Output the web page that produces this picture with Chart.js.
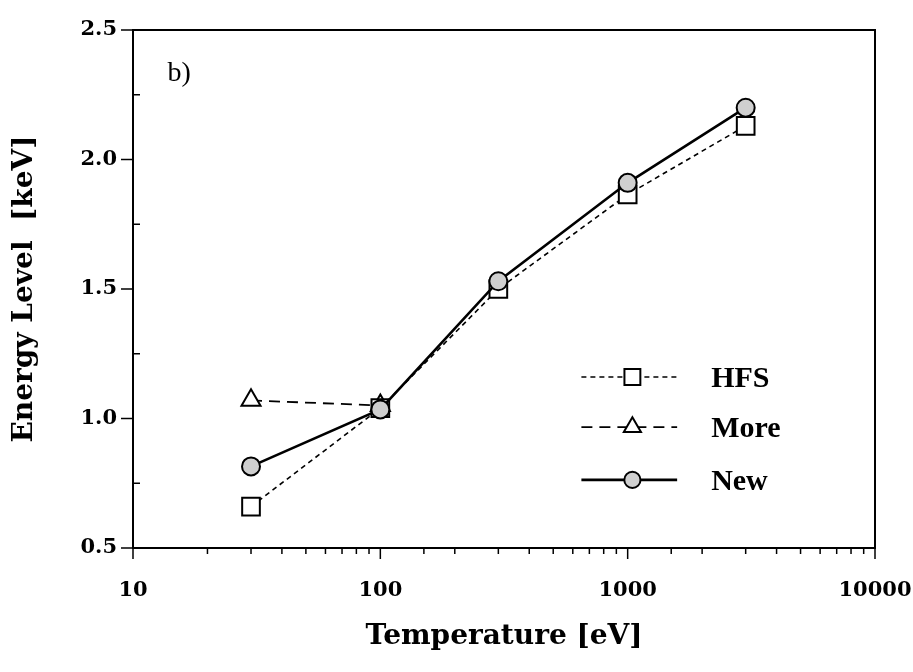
<!DOCTYPE html>
<html>
<head>
<meta charset="utf-8">
<script src="https://cdn.jsdelivr.net/npm/chart.js@4/dist/chart.umd.min.js"></script>
<style>
  html, body { margin: 0; padding: 0; background: #fff; }
  #wrap { width: 913px; height: 672px; }
</style>
</head>
<body>
<div id="wrap"><canvas id="c" width="913" height="672"></canvas></div>
<script>
// ---- data ----
const temperatures = [30, 100, 300, 1000, 3000];
const hfsValues = [0.66, 1.04, 1.50, 1.865, 2.13];
const moreTemperatures = [30, 100];
const moreValues = [1.07, 1.05];
const newValues = [0.815, 1.035, 1.53, 1.91, 2.20];
const xTickLabels = [10, 100, 1000, 10000];
const yTickLabels = [0.5, 1.0, 1.5, 2.0, 2.5];
const seriesNames = ['HFS', 'More', 'New'];
const panelLabel = 'b)';

const toPoints = (xs, ys) => xs.map((x, i) => ({ x: x, y: ys[i] }));

const styles = {
  HFS:  { borderDash: [5, 4], borderWidth: 1.6, pointStyle: 'rect', radius: 12.5, fill: '#ffffff' },
  More: { borderDash: [11, 7], borderWidth: 1.8, pointStyle: 'triangle', radius: 11, fill: '#ffffff' },
  New:  { borderDash: [], borderWidth: 2.6, pointStyle: 'circle', radius: 9, fill: '#cfcfcf' }
};

function ds(name, data, order) {
  const s = styles[name];
  return {
    label: name, data: data, order: order,
    borderColor: '#000', borderWidth: s.borderWidth, borderDash: s.borderDash,
    pointStyle: s.pointStyle, pointRadius: s.radius, pointHoverRadius: s.radius,
    pointBackgroundColor: s.fill, pointBorderColor: '#000', pointBorderWidth: 2,
    tension: 0, fill: false
  };
}

const decoPlugin = {
  id: 'deco',
  afterDraw(chart) {
    const ctx = chart.ctx, a = chart.chartArea;
    const xs = chart.scales.x, ys = chart.scales.y;
    ctx.save();
    ctx.strokeStyle = '#000';
    // frame
    ctx.lineWidth = 2;
    ctx.strokeRect(a.left, a.top, a.right - a.left, a.bottom - a.top);
    // x ticks (outward)
    ctx.lineWidth = 1.5;
    xs.ticks.forEach(t => {
      const lg = Math.log10(t.value);
      const major = Math.abs(lg - Math.round(lg)) < 1e-9;
      const px = xs.getPixelForValue(t.value);
      ctx.beginPath();
      ctx.moveTo(px, a.bottom);
      ctx.lineTo(px, a.bottom + (major ? 11 : 6));
      ctx.stroke();
    });
    // y ticks
    ys.ticks.forEach(t => {
      const major = Math.abs(t.value * 2 - Math.round(t.value * 2)) < 1e-9;
      const py = ys.getPixelForValue(t.value);
      ctx.beginPath();
      if (major) { ctx.moveTo(a.left, py); ctx.lineTo(a.left - 12, py); }
      else { ctx.moveTo(a.left, py); ctx.lineTo(a.left + 7, py); }
      ctx.stroke();
    });
    // panel label
    ctx.fillStyle = '#000';
    ctx.font = '28px "Liberation Serif"';
    ctx.textAlign = 'left';
    ctx.textBaseline = 'middle';
    ctx.fillText(panelLabel, xs.getPixelForValue(13.8), ys.getPixelForValue(2.33));
    // legend
    const rowsY = [1.16, 0.967, 0.763];
    const lineX0 = xs.getPixelForValue(650), lineX1 = xs.getPixelForValue(1585);
    const markX = xs.getPixelForValue(1045);
    const textX = xs.getPixelForValue(2175);
    const dsets = chart.data.datasets;
    seriesNames.forEach((name, i) => {
      const d = dsets.find(q => q.label === name);
      const py = ys.getPixelForValue(rowsY[i]);
      ctx.save();
      ctx.lineWidth = d.borderWidth;
      ctx.setLineDash(d.borderDash);
      ctx.beginPath(); ctx.moveTo(lineX0, py); ctx.lineTo(lineX1, py); ctx.stroke();
      ctx.restore();
      ctx.save();
      ctx.fillStyle = d.pointBackgroundColor; ctx.strokeStyle = '#000'; ctx.lineWidth = 2;
      Chart.helpers.drawPoint(ctx, { pointStyle: d.pointStyle, radius: d.pointRadius * 0.9, borderWidth: 2 }, markX, py);
      ctx.restore();
      ctx.fillStyle = '#000';
      ctx.font = 'bold 30px "Liberation Serif"';
      ctx.textAlign = 'left';
      ctx.textBaseline = 'middle';
      ctx.fillText(name, textX, py + 2);
    });
    ctx.restore();
  }
};

new Chart(document.getElementById('c'), {
  type: 'line',
  data: {
    datasets: [
      ds('HFS', toPoints(temperatures, hfsValues), 1),
      ds('More', toPoints(moreTemperatures, moreValues), 2),
      ds('New', toPoints(temperatures, newValues), 0)
    ]
  },
  options: {
    responsive: false,
    animation: false,
    layout: { padding: { top: 30, right: 38, left: 0, bottom: 0 } },
    plugins: { legend: { display: false }, tooltip: { enabled: false } },
    scales: {
      x: {
        type: 'logarithmic', min: 10, max: 10000,
        afterFit: s => { s.height = 124; s.paddingLeft = 0; s.paddingRight = 0; },
        grid: { display: false, drawTicks: false },
        border: { display: false },
        ticks: {
          autoSkip: false, maxRotation: 0, padding: 30, color: '#000',
          font: { family: '"DejaVu Serif"', weight: 'bold', size: 21 },
          callback: v => xTickLabels.includes(v) ? String(v) : ''
        },
        title: {
          display: true, text: 'Temperature [eV]', color: '#000',
          font: { family: '"DejaVu Serif"', weight: 'bold', size: 28 },
          padding: { top: 0, bottom: 18 }
        }
      },
      y: {
        min: 0.5, max: 2.5,
        afterFit: s => { s.width = 133; s.paddingTop = 0; s.paddingBottom = 0; },
        grid: { display: false, drawTicks: false },
        border: { display: false },
        ticks: {
          stepSize: 0.25, autoSkip: false, padding: 16, color: '#000',
          font: { family: '"DejaVu Serif"', weight: 'bold', size: 21 },
          callback: v => yTickLabels.some(t => Math.abs(t - v) < 1e-9) ? v.toFixed(1) : ''
        },
        title: {
          display: true, text: 'Energy Level  [keV]', color: '#000',
          font: { family: '"DejaVu Serif"', weight: 'bold', size: 28 },
          padding: { top: 8, bottom: 0 }
        }
      }
    }
  },
  plugins: [decoPlugin]
});
</script>
</body>
</html>
